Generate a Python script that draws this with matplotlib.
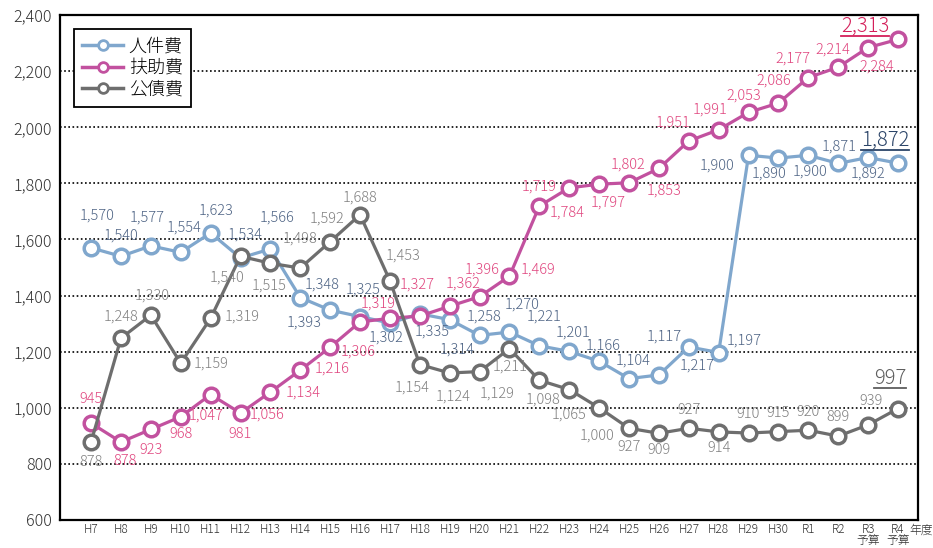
import matplotlib
matplotlib.use('Agg')
import matplotlib.pyplot as plt
from matplotlib.lines import Line2D
from matplotlib.ticker import FuncFormatter

# ==========================================
# 0. フォント設定
# ==========================================
plt.rcParams['font.family'] = ['Noto Sans CJK JP', 'DejaVu Sans']
plt.rcParams['font.weight'] = 'light'
plt.rcParams['axes.unicode_minus'] = False

# ==========================================
# 1. データ
# ==========================================
years = ['H7', 'H8', 'H9', 'H10', 'H11', 'H12', 'H13', 'H14', 'H15', 'H16',
         'H17', 'H18', 'H19', 'H20', 'H21', 'H22', 'H23', 'H24', 'H25', 'H26',
         'H27', 'H28', 'H29', 'H30', 'R1', 'R2', 'R3\n予算', 'R4\n予算']

jinkenhi = [1570, 1540, 1577, 1554, 1623, 1534, 1566, 1393, 1348, 1325,
            1302, 1335, 1314, 1258, 1270, 1221, 1201, 1166, 1104, 1117,
            1217, 1197, 1900, 1890, 1900, 1871, 1892, 1872]
fujohi = [945, 878, 923, 968, 1047, 981, 1056, 1134, 1216, 1306,
          1319, 1327, 1362, 1396, 1469, 1719, 1784, 1797, 1802, 1853,
          1951, 1991, 2053, 2086, 2177, 2214, 2284, 2313]
kosaihi = [878, 1248, 1330, 1159, 1319, 1540, 1515, 1498, 1592, 1688,
           1453, 1154, 1124, 1129, 1211, 1098, 1065, 1000, 927, 909,
           927, 914, 910, 915, 920, 899, 939, 997]

# ラベルの位置調整 (ピクセル, 上が正)
blue_off = [(6, 32), (0, 21), (-4, 28), (3, 25), (5, 22), (5, 23), (7, 31),
            (4, -25), (-8, 26), (3, 27), (-4, -14), (12, -18), (7, -30),
            (4, 19), (13, 28), (5, 29), (4, 19), (4, 16), (4, 18), (5, 38),
            (8, -19), (26, 12), (-32, -10), (-9, -15), (2, -16), (1, 17),
            (0, -16), (-13, 23)]
pink_off = [(0, 24), (4, -19), (0, -21), (0, -17), (-5, -21), (0, -21),
            (-3, -22), (3, -22), (2, -21), (-2, -30), (-12, 15), (-3, 32),
            (13, 23), (3, 27), (29, 7), (0, 20), (-2, -25), (9, -18),
            (-1, 18), (5, -22), (-16, 18), (-9, 20), (-5, 17), (-5, 23),
            (-15, 19), (-5, 18), (9, -19), (-33, 13)]
gray_off = [(0, -20), (0, 22), (1, 20), (30, 0), (32, 2), (-13, -21),
            (-1, -22), (0, 30), (-3, 23), (0, 17), (13, 25), (-8, -23),
            (3, -24), (18, -22), (1, -18), (4, -19), (0, -25), (-2, -28),
            (0, -19), (0, -17), (0, 18), (0, -16), (0, 19), (0, 19),
            (0, 18), (0, 19), (3, 24), (-8, 30)]

# ==========================================
# 2. 描画
# ==========================================
fig = plt.figure(figsize=(9.33, 5.48), dpi=100)
ax = fig.add_axes([60 / 933, 28 / 548, 858 / 933, 505 / 548])

x = list(range(len(years)))

series = [
    ('人件費', jinkenhi, '#80A7CD', '#4D6384', '#2B4468', blue_off, 3),
    ('扶助費', fujohi, '#C2519F', '#E0457E', '#D41F5A', pink_off, 4),
    ('公債費', kosaihi, '#6E6E6E', '#808080', '#5E5E5E', gray_off, 5),
]

big_labels = []
for name, vals, lc, tc, bc, offs, z in series:
    ax.plot(x, vals, color=lc, lw=2.3, marker='o', ms=10.5,
            mfc='white', mec=lc, mew=2.5, label=name, zorder=z)
    for i, v in enumerate(vals):
        dx, dy = offs[i]
        last = (i == len(vals) - 1)
        t = ax.annotate(f'{v:,}', xy=(i, v), xytext=(dx, dy),
                        textcoords='offset pixels', ha='center', va='center',
                        fontsize=14.5 if last else 10.5,
                        color=bc if last else tc, zorder=10)
        if last:
            big_labels.append((t, bc))

ax.set_xlim(-1.04, 27.67)
ax.set_ylim(600, 2400)
ax.set_yticks(range(600, 2401, 200))
ax.yaxis.set_major_formatter(FuncFormatter(lambda v, p: f'{int(v):,}'))
ax.set_xticks(x)
ax.set_xticklabels(years, fontsize=8.5, linespacing=0.95)
ax.tick_params(axis='both', length=0, colors='#333333')
ax.tick_params(axis='y', labelsize=11.5, pad=6)
ax.tick_params(axis='x', pad=2)

for gy in range(800, 2201, 200):
    ax.axhline(gy, color='black', lw=1.2, ls=(0, (1, 1.5)), zorder=1)

for s in ax.spines.values():
    s.set_color('black')
    s.set_linewidth(1.6)

fig.text(909 / 933, 1 - 530 / 548, '年度', fontsize=8.5, color='#333333',
         ha='left', va='center')

leg = ax.legend(loc='upper left', bbox_to_anchor=(0.016, 0.972),
                borderaxespad=0, fontsize=13, fancybox=False,
                handlelength=2.3, handletextpad=0.3, labelspacing=0.2,
                borderpad=0.45, framealpha=1)
leg.get_frame().set_edgecolor('black')
leg.get_frame().set_linewidth(1.3)
for h in leg.get_lines():
    h.set_markersize(7)
    h.set_markeredgewidth(2)
    h.set_linewidth(2.5)

# 最終年度の数値に下線
fig.canvas.draw()
inv = fig.transFigure.inverted()
for t, c in big_labels:
    bb = t.get_window_extent()
    (x0, y0), (x1, _) = inv.transform([(bb.x0, bb.y0 + 1), (bb.x1, bb.y0 + 1)])
    fig.add_artist(Line2D([x0, x1], [y0, y0], color=c, lw=1.3))

fig.savefig('out.png', dpi=100)
